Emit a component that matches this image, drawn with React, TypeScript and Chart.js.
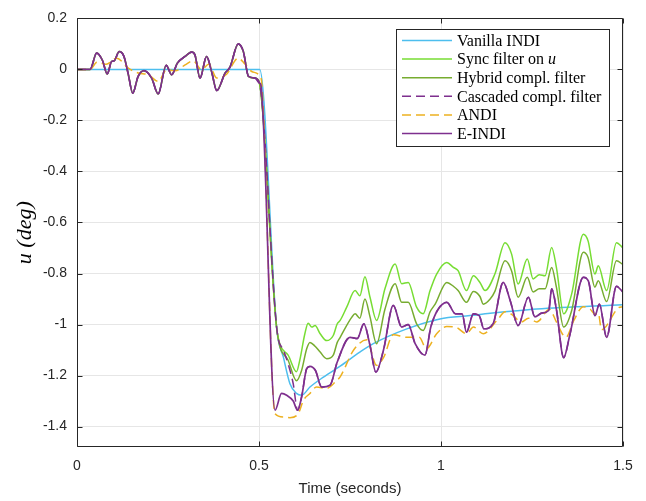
import React, { useEffect, useRef } from "react";
import { Chart, registerables } from "chart.js";

Chart.register(...registerables);

// ---- Data (time in seconds, u in degrees) ----
const xTicks = [0, 0.5, 1, 1.5];
const yTicks = [-1.4, -1.2, -1, -0.8, -0.6, -0.4, -0.2, 0, 0.2];

// Common early response (E-INDI, also followed by filters / cascaded)
const eindiEarlyT = [0, 0.036, 0.054, 0.07, 0.083, 0.095, 0.102, 0.116, 0.129, 0.141, 0.153, 0.168, 0.184, 0.205, 0.223, 0.245, 0.26, 0.276, 0.297, 0.315, 0.324, 0.338, 0.356, 0.37, 0.384, 0.407, 0.42, 0.443, 0.457, 0.471, 0.489, 0.501];
const eindiEarlyU = [0, 0, 0.064, 0.035, -0.018, 0.031, 0.034, 0.07, 0.051, -0.02, -0.093, -0.027, -0.005, -0.034, -0.096, 0.016, -0.021, 0.025, 0.051, 0.068, 0.057, -0.034, 0.051, -0.01, -0.083, -0.014, 0.008, 0.1, 0.07, -0.027, -0.034, -0.053];

// E-INDI after the step
const eindiLateT = [0.505, 0.544, 0.562, 0.576, 0.594, 0.606, 0.617, 0.631, 0.64, 0.655, 0.672, 0.695, 0.715, 0.75, 0.77, 0.788, 0.805, 0.821, 0.842, 0.869, 0.892, 0.91, 0.929, 0.956, 0.972, 0.99, 1.016, 1.04, 1.058, 1.07, 1.089, 1.105, 1.118, 1.143, 1.171, 1.19, 1.212, 1.24, 1.258, 1.277, 1.296, 1.304, 1.317, 1.337, 1.354, 1.391, 1.405, 1.423, 1.435, 1.455, 1.482, 1.5];
const eindiLateU = [-0.06, -1.336, -1.27, -1.277, -1.3, -1.336, -1.284, -1.173, -1.164, -1.18, -1.245, -1.238, -1.147, -1.05, -1.055, -0.997, -1.082, -1.186, -1.1, -0.925, -1.01, -1.0, -1.075, -1.12, -1.01, -0.945, -0.913, -0.958, -0.958, -1.03, -0.958, -0.965, -1.017, -0.997, -0.835, -0.906, -1.004, -0.893, -0.97, -0.955, -0.945, -0.86, -0.94, -1.13, -1.04, -0.815, -0.83, -0.965, -0.92, -1.05, -0.85, -0.873];

// Cascaded compl. filter: slower drop, then joins E-INDI
const cascDropT = [0.55, 0.567, 0.58, 0.594, 0.606];
const cascDropU = [-1.03, -1.1, -1.154, -1.232, -1.336];
const cascRejoinT = 0.617;

// Vanilla INDI
const vanillaT = [0, 0.502, 0.549, 0.567, 0.585, 0.603, 0.617, 0.64, 0.677, 0.723, 0.777, 0.814, 0.906, 0.997, 1.08, 1.135, 1.263, 1.5];
const vanillaU = [0, 0, -1.02, -1.128, -1.232, -1.27, -1.277, -1.245, -1.206, -1.163, -1.108, -1.075, -1.017, -0.978, -0.965, -0.956, -0.939, -0.922];

// Sync filter on u
const syncLateT = [0.55, 0.58, 0.603, 0.612, 0.626, 0.635, 0.645, 0.654, 0.668, 0.686, 0.704, 0.715, 0.723, 0.741, 0.764, 0.777, 0.791, 0.805, 0.823, 0.846, 0.874, 0.892, 0.91, 0.933, 0.951, 0.97, 0.988, 1.016, 1.034, 1.047, 1.07, 1.089, 1.107, 1.121, 1.148, 1.176, 1.194, 1.212, 1.237, 1.253, 1.27, 1.286, 1.304, 1.317, 1.337, 1.359, 1.391, 1.404, 1.423, 1.432, 1.455, 1.482, 1.5];
const syncLateU = [-1.03, -1.12, -1.185, -1.14, -1.036, -0.995, -1.01, -1.004, -1.036, -1.063, -1.043, -0.997, -0.984, -0.932, -0.867, -0.887, -0.813, -0.893, -0.984, -0.86, -0.763, -0.84, -0.835, -0.932, -0.958, -0.867, -0.802, -0.757, -0.776, -0.789, -0.867, -0.809, -0.835, -0.867, -0.802, -0.679, -0.724, -0.841, -0.743, -0.821, -0.805, -0.809, -0.698, -0.776, -0.958, -0.88, -0.646, -0.672, -0.802, -0.77, -0.867, -0.679, -0.7];

// Hybrid compl. filter
const hybridLateT = [0.55, 0.58, 0.603, 0.617, 0.631, 0.64, 0.654, 0.668, 0.686, 0.704, 0.715, 0.723, 0.755, 0.764, 0.777, 0.791, 0.805, 0.823, 0.846, 0.874, 0.892, 0.91, 0.933, 0.951, 0.97, 0.984, 1.016, 1.034, 1.047, 1.07, 1.089, 1.107, 1.116, 1.135, 1.148, 1.176, 1.194, 1.212, 1.237, 1.253, 1.27, 1.286, 1.304, 1.317, 1.337, 1.359, 1.391, 1.404, 1.423, 1.432, 1.455, 1.482, 1.5];
const hybridLateU = [-1.03, -1.14, -1.22, -1.18, -1.095, -1.07, -1.085, -1.108, -1.134, -1.12, -1.07, -1.05, -0.971, -0.958, -0.975, -0.9, -0.97, -1.075, -0.94, -0.84, -0.913, -0.913, -0.997, -1.023, -0.95, -0.92, -0.835, -0.85, -0.867, -0.913, -0.87, -0.89, -0.92, -0.9, -0.87, -0.75, -0.79, -0.893, -0.815, -0.872, -0.86, -0.86, -0.776, -0.853, -1.01, -0.945, -0.717, -0.737, -0.853, -0.828, -0.91, -0.75, -0.765];

// ANDI
const andiT = [0, 0.036, 0.055, 0.08, 0.109, 0.141, 0.168, 0.195, 0.223, 0.246, 0.27, 0.297, 0.319, 0.342, 0.362, 0.384, 0.41, 0.443, 0.462, 0.48, 0.503, 0.508, 0.544, 0.567, 0.585, 0.608, 0.622, 0.64, 0.658, 0.686, 0.713, 0.723, 0.76, 0.796, 0.823, 0.842, 0.869, 0.906, 0.94, 0.96, 0.988, 1.016, 1.04, 1.07, 1.089, 1.116, 1.157, 1.176, 1.194, 1.221, 1.24, 1.263, 1.298, 1.317, 1.343, 1.365, 1.391, 1.41, 1.423, 1.432, 1.441, 1.487, 1.5];
const andiU = [0, 0, 0.028, 0.02, 0.044, 0.005, -0.014, -0.02, -0.047, -0.001, -0.005, 0.018, 0.034, -0.001, 0.02, -0.034, -0.02, 0.044, 0.02, -0.008, -0.027, -0.06, -1.349, -1.362, -1.365, -1.349, -1.297, -1.27, -1.245, -1.25, -1.22, -1.205, -1.1, -1.06, -1.16, -1.13, -1.04, -1.05, -1.05, -1.095, -1.036, -1.008, -1.01, -1.036, -1.01, -1.036, -0.978, -0.95, -0.96, -0.99, -0.975, -0.99, -0.94, -0.99, -1.05, -0.984, -0.93, -0.94, -0.96, -0.955, -1.02, -0.935, -0.93];

// ---- Styling ----
const COLORS = {
  vanilla: "#4DBEEE",
  sync: "#77DD33",
  hybrid: "#77AC30",
  cascaded: "#7E2F8E",
  andi: "#EDB120",
  eindi: "#7E2F8E",
};
const DASH = [9, 5];

type P = { x: number; y: number };
const pts = (t: number[], u: number[]): P[] => t.map((x, i) => ({ x, y: u[i] }));

const eindiEarly = pts(eindiEarlyT, eindiEarlyU);
const eindiLate = pts(eindiLateT, eindiLateU);
const eindiData = [...eindiEarly, ...eindiLate];
const cascadedData = [
  ...eindiEarly,
  ...pts(cascDropT, cascDropU),
  ...eindiLate.filter((p) => p.x >= cascRejoinT),
];
const syncData = [...eindiEarly, ...pts(syncLateT, syncLateU)];
const hybridData = [...eindiEarly, ...pts(hybridLateT, hybridLateU)];
const vanillaData = pts(vanillaT, vanillaU);
const andiData = pts(andiT, andiU);

const AXIS_COLOR = "#262626";
const GRID_COLOR = "#e6e6e6";
const SANS = "'Liberation Sans', Arial, Helvetica, sans-serif";
const SERIF = "'Liberation Serif', 'Times New Roman', serif";

const boxPlugin = {
  id: "matlabBox",
  afterDatasetsDraw(chart: any) {
    const { ctx, chartArea } = chart;
    const { left, right, top, bottom } = chartArea;
    const L = Math.round(left) + 0.5;
    const R = Math.round(right) - 0.5;
    const T = Math.round(top) + 0.5;
    const B = Math.round(bottom) - 0.5;
    ctx.save();
    ctx.strokeStyle = AXIS_COLOR;
    ctx.lineWidth = 1;
    ctx.beginPath();
    ctx.rect(L, T, R - L, B - T);
    ctx.stroke();
    const tl = 5;
    const xs = chart.scales.x;
    const ys = chart.scales.y;
    ctx.beginPath();
    xTicks.forEach((v) => {
      const px = Math.round(xs.getPixelForValue(v)) + 0.5;
      ctx.moveTo(px, B);
      ctx.lineTo(px, B - tl);
      ctx.moveTo(px, T);
      ctx.lineTo(px, T + tl);
    });
    yTicks.forEach((v) => {
      const py = Math.round(ys.getPixelForValue(v)) + 0.5;
      ctx.moveTo(L, py);
      ctx.lineTo(L + tl, py);
      ctx.moveTo(R, py);
      ctx.lineTo(R - tl, py);
    });
    ctx.stroke();
    ctx.restore();
  },
};

const legendItems = [
  { label: "Vanilla INDI", color: COLORS.vanilla, dash: [] as number[], italicTail: "" },
  { label: "Sync filter on ", color: COLORS.sync, dash: [] as number[], italicTail: "u" },
  { label: "Hybrid compl. filter", color: COLORS.hybrid, dash: [] as number[], italicTail: "" },
  { label: "Cascaded compl. filter", color: COLORS.cascaded, dash: DASH, italicTail: "" },
  { label: "ANDI", color: COLORS.andi, dash: DASH, italicTail: "" },
  { label: "E-INDI", color: COLORS.eindi, dash: [] as number[], italicTail: "" },
];

const legendPlugin = {
  id: "matlabLegend",
  afterDraw(chart: any) {
    const { ctx } = chart;
    const bx = 396.5, by = 29.5, bw = 213, bh = 117;
    ctx.save();
    ctx.fillStyle = "#ffffff";
    ctx.fillRect(bx, by, bw, bh);
    ctx.strokeStyle = AXIS_COLOR;
    ctx.lineWidth = 1;
    ctx.strokeRect(bx, by, bw, bh);
    ctx.textBaseline = "middle";
    ctx.textAlign = "left";
    legendItems.forEach((it, i) => {
      const y = 40.5 + i * 18.6;
      ctx.strokeStyle = it.color;
      ctx.lineWidth = 1.5;
      ctx.setLineDash(it.dash);
      ctx.beginPath();
      ctx.moveTo(402, y);
      ctx.lineTo(452, y);
      ctx.stroke();
      ctx.setLineDash([]);
      ctx.fillStyle = "#000000";
      ctx.font = `16px ${SERIF}`;
      ctx.fillText(it.label, 457, y + 1);
      if (it.italicTail) {
        const w = ctx.measureText(it.label).width;
        ctx.font = `italic 16px ${SERIF}`;
        ctx.fillText(it.italicTail, 457 + w, y + 1);
      }
    });
    ctx.restore();
  },
};

export default function App() {
  const canvasRef = useRef<HTMLCanvasElement | null>(null);

  useEffect(() => {
    if (!canvasRef.current) return;
    const mk = (label: string, data: P[], color: string, order: number, dash: number[] = [], width = 1.5) => ({
      label,
      data,
      borderColor: color,
      backgroundColor: color,
      borderWidth: width,
      borderDash: dash,
      pointRadius: 0,
      fill: false,
      cubicInterpolationMode: "monotone" as const,
      order,
    });
    const chart = new Chart(canvasRef.current, {
      type: "line",
      data: {
        datasets: [
          mk("Vanilla INDI", vanillaData, COLORS.vanilla, 6),
          mk("Sync filter on u", syncData, COLORS.sync, 5),
          mk("Hybrid compl. filter", hybridData, COLORS.hybrid, 4),
          mk("Cascaded compl. filter", cascadedData, COLORS.cascaded, 3, DASH),
          mk("ANDI", andiData, COLORS.andi, 2, DASH),
          mk("E-INDI", eindiData, COLORS.eindi, 1, [], 1.7),
        ],
      },
      options: {
        animation: false,
        responsive: false,
        maintainAspectRatio: false,
        events: [],
        layout: { padding: { left: 0, right: 23, top: 17, bottom: 0 } },
        plugins: {
          legend: { display: false },
          tooltip: { enabled: false },
        },
        scales: {
          x: {
            type: "linear",
            min: 0,
            max: 1.5,
            afterFit: (s: any) => {
              s.height = 54;
            },
            afterBuildTicks: (s: any) => {
              s.ticks = xTicks.map((v) => ({ value: v }));
            },
            ticks: {
              color: AXIS_COLOR,
              font: { family: SANS, size: 14 },
              padding: 11,
              maxRotation: 0,
              callback: (v: any) => String(Number(Number(v).toFixed(2))),
            },
            grid: { color: GRID_COLOR, drawTicks: false },
            border: { display: false },
            title: {
              display: true,
              text: "Time (seconds)",
              color: AXIS_COLOR,
              font: { family: SANS, size: 15 },
              padding: { top: 0, bottom: 3 },
            },
          },
          y: {
            type: "linear",
            min: -1.48,
            max: 0.2,
            afterFit: (s: any) => {
              s.width = 77;
            },
            afterBuildTicks: (s: any) => {
              s.ticks = yTicks.map((v) => ({ value: v }));
            },
            ticks: {
              color: AXIS_COLOR,
              font: { family: SANS, size: 14 },
              padding: 10,
              callback: (v: any) => {
                const n = Number(Number(v).toFixed(1));
                return n === 0 ? "0" : String(n);
              },
            },
            grid: { color: GRID_COLOR, drawTicks: false },
            border: { display: false },
            title: {
              display: true,
              text: "u (deg)",
              color: "#000000",
              font: { family: SERIF, size: 22, style: "italic" },
              padding: { top: 12, bottom: 0 },
            },
          },
        },
      },
      plugins: [boxPlugin, legendPlugin],
    } as any);
    return () => chart.destroy();
  }, []);

  return (
    <div style={{ position: "absolute", left: 0, top: 0, width: 646, height: 501, background: "#ffffff" }}>
      <canvas ref={canvasRef} width={646} height={501} style={{ width: 646, height: 501, display: "block" }} />
    </div>
  );
}
